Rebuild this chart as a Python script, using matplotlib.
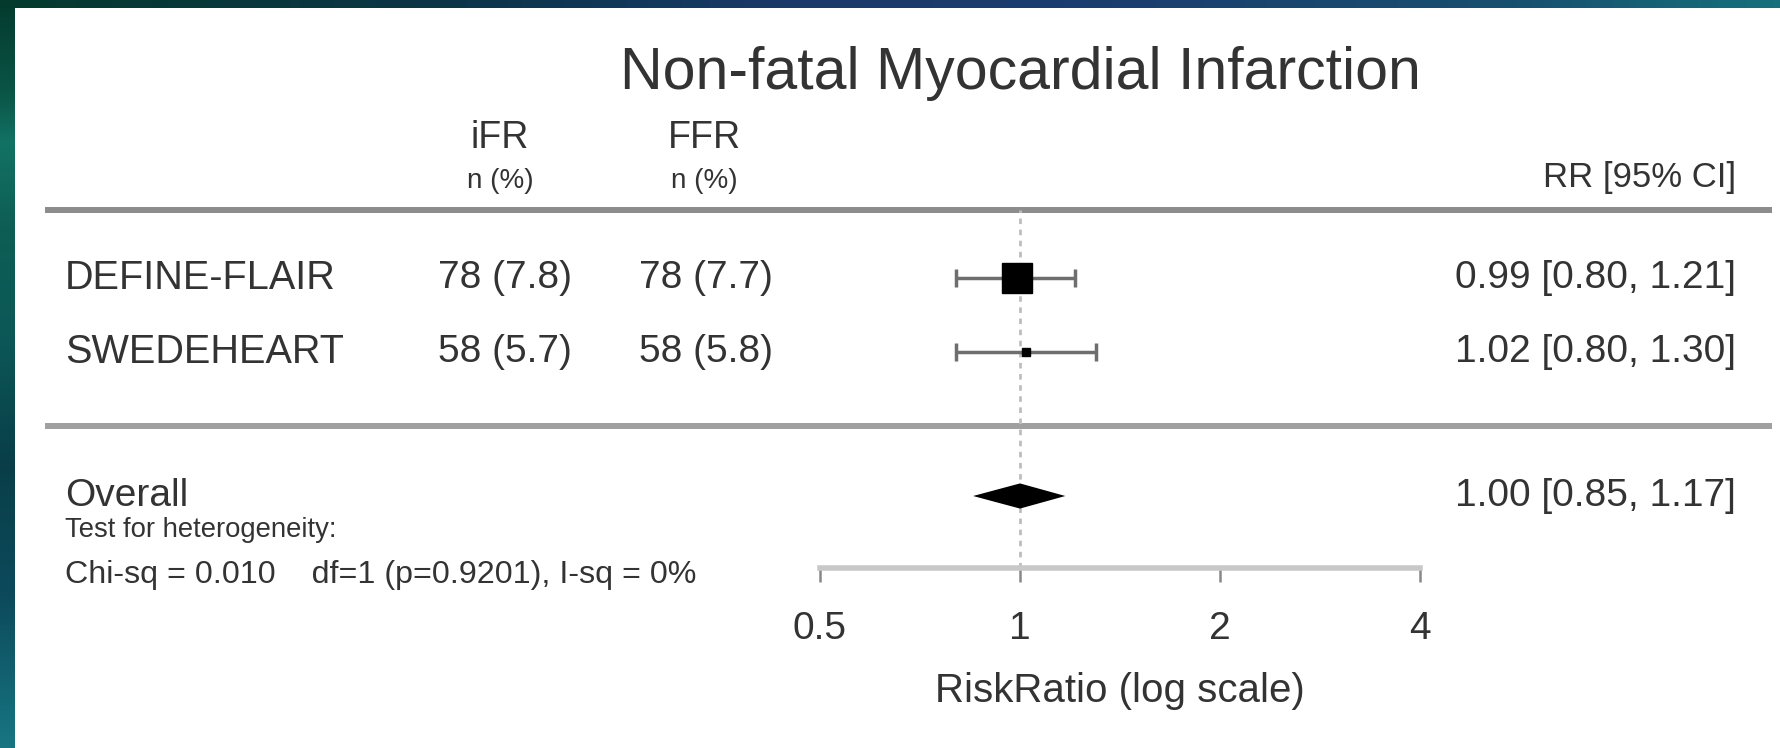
import numpy as np
import matplotlib.pyplot as plt
from matplotlib.colors import LinearSegmentedColormap
from matplotlib.ticker import NullLocator

plt.rcParams['font.family'] = ['Liberation Sans', 'DejaVu Sans']

# data
title = 'Non-fatal Myocardial Infarction'
studies = ['DEFINE-FLAIR', 'SWEDEHEART']
ifr_events = ['78 (7.8)', '58 (5.7)']
ffr_events = ['78 (7.7)', '58 (5.8)']
rr = [0.99, 1.02]
rr_lo = [0.80, 0.80]
rr_hi = [1.21, 1.30]
weights = [81, 19]
pooled = [1.00, 0.85, 1.17]
het_lines = ['Test for heterogeneity:', 'Chi-sq = 0.010    df=1 (p=0.9201), I-sq = 0%']
xticks = [0.5, 1, 2, 4]
xtick_labels = ['0.5', '1', '2', '4']

W, H = 1781, 748
TXT = '#333333'


def row_px(r):
    # row index -> pixel row of the layout
    return 278 + 74 * r


def px_row(p):
    return (p - 278) / 74


fig = plt.figure(figsize=(W / 100, H / 100), dpi=100)
fig.patch.set_facecolor('white')

# background layer in pixel coordinates (borders, table text, rules)
bg = fig.add_axes([0, 0, 1, 1])
side_cmap = LinearSegmentedColormap.from_list('side', [
    (0.0, '#043a2e'), (0.12, '#0a5446'), (0.19, '#127264'), (0.3, '#0e5e54'),
    (0.45, '#0c5858'), (0.62, '#093e48'), (0.8, '#0c4a5c'), (1.0, '#177682')])
top_cmap = LinearSegmentedColormap.from_list('top', [
    (0.0, '#043a2e'), (0.25, '#0c3448'), (0.45, '#1a3a6a'), (0.6, '#1b3c6e'),
    (0.85, '#18506e'), (1.0, '#15707c')])
bg.imshow(np.linspace(0, 1, 256)[:, None], cmap=side_cmap, extent=(0, 15, H, 0), aspect='auto')
bg.imshow(np.linspace(0, 1, 256)[None, :], cmap=top_cmap, extent=(0, W, 8, 0), aspect='auto')
bg.set_xlim(0, W)
bg.set_ylim(H, 0)
bg.axis('off')

bg.text(1020, 73, title, ha='center', va='center', fontsize=42.5, color=TXT)
bg.text(500, 138, 'iFR', ha='center', va='center', fontsize=27, color=TXT)
bg.text(704, 138, 'FFR', ha='center', va='center', fontsize=27, color=TXT)
bg.text(500, 181, 'n (%)', ha='center', va='center', fontsize=20, color=TXT)
bg.text(704, 181, 'n (%)', ha='center', va='center', fontsize=20, color=TXT)
bg.text(1736, 177, 'RR [95% CI]', ha='right', va='center', fontsize=25, color=TXT)

bg.plot([45, 1772], [210, 210], color='#8c8c8c', lw=4.3, solid_capstyle='butt')
bg.plot([45, 1772], [426, 426], color='#a0a0a0', lw=4.3, solid_capstyle='butt')

for i, name in enumerate(studies):
    y = row_px(i)
    bg.text(65, y, name, ha='left', va='center', fontsize=28.5, color=TXT)
    bg.text(505, y, ifr_events[i], ha='center', va='center', fontsize=28, color=TXT)
    bg.text(706, y, ffr_events[i], ha='center', va='center', fontsize=28, color=TXT)
    bg.text(1736, y, f'{rr[i]:.2f} [{rr_lo[i]:.2f}, {rr_hi[i]:.2f}]',
            ha='right', va='center', fontsize=28, color=TXT)

pooled_row = px_row(496)
bg.text(65, row_px(pooled_row), 'Overall', ha='left', va='center', fontsize=28, color=TXT)
bg.text(1736, row_px(pooled_row), f'{pooled[0]:.2f} [{pooled[1]:.2f}, {pooled[2]:.2f}]',
        ha='right', va='center', fontsize=28, color=TXT)
bg.text(65, 530, het_lines[0], ha='left', va='center', fontsize=19.8, color=TXT)
bg.text(65, 575, het_lines[1], ha='left', va='center', fontsize=23.2, color=TXT)

# forest panel on a log2 risk-ratio scale
ax = fig.add_axes([820 / W, 1 - 568 / H, 600 / W, 358 / H])
ax.patch.set_alpha(0)
ax.set_xscale('log', base=2)
ax.set_xlim(0.5, 4)
ax.set_ylim(px_row(568), px_row(210))

ax.axvline(1, color='#bdbdbd', ls=(0, (2, 2)), lw=2, zorder=0)

ys = np.arange(len(studies))
ax.errorbar(rr, ys, xerr=[np.subtract(rr, rr_lo), np.subtract(rr_hi, rr)], fmt='none',
            ecolor='#6e6e6e', elinewidth=2.5, capsize=6.5, capthick=2.5, zorder=2)
for x, y, w in zip(rr, ys, weights):
    ax.plot(x, y, 's', color='black', markersize=22 * w / max(weights), zorder=3)

est, lo, hi = pooled
ax.fill([lo, est, hi, est], [pooled_row, pooled_row - 0.17, pooled_row, pooled_row + 0.17],
        color='black', lw=0, zorder=3)

for s in ['top', 'left', 'right']:
    ax.spines[s].set_visible(False)
ax.spines['bottom'].set_color('#c8c8c8')
ax.spines['bottom'].set_linewidth(4)
ax.set_yticks([])
ax.set_xticks(xticks)
ax.set_xticklabels(xtick_labels)
ax.xaxis.set_minor_locator(NullLocator())
ax.tick_params(axis='x', length=10, width=1.8, color='#888888', pad=21,
               labelsize=28, labelcolor=TXT)
ax.set_xlabel('RiskRatio (log scale)', fontsize=29, color=TXT, labelpad=18)

fig.savefig('out.png', dpi=100)
